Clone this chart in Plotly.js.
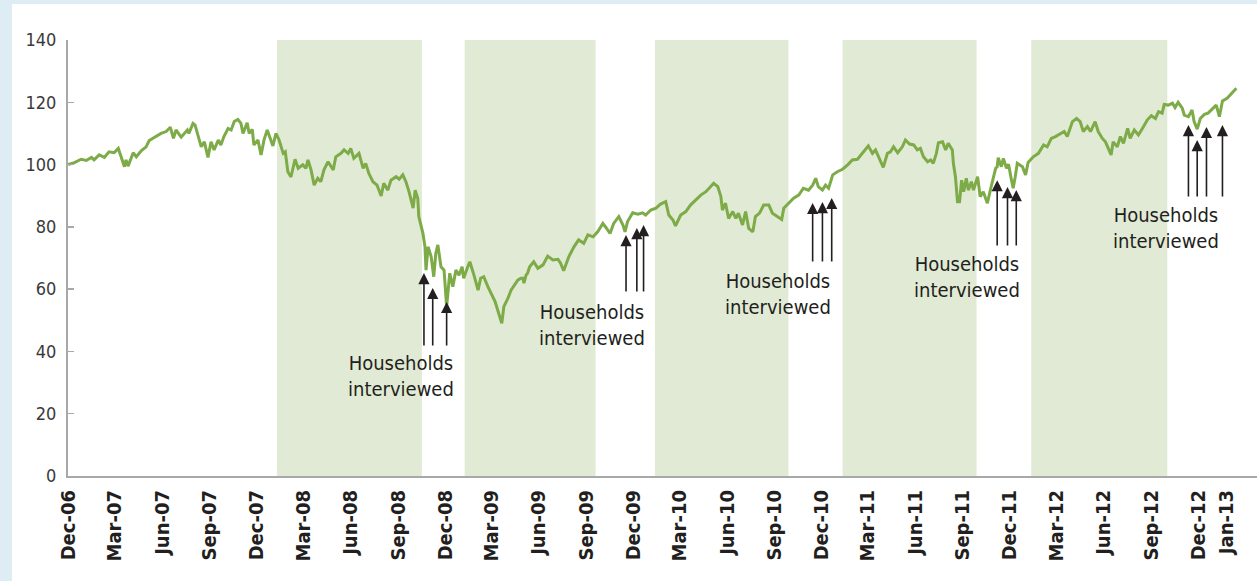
<!DOCTYPE html>
<html><head><meta charset="utf-8">
<script src="https://cdn.plot.ly/plotly-3.0.1.min.js"></script>
<style>
html,body{margin:0;padding:0;background:#deedf3;width:1257px;height:581px;overflow:hidden}
#chart{position:absolute;left:12px;top:4px;width:1245px;height:577px;background:#fff}
</style></head><body><div id="chart"></div>
<script>
const dates = [
"2006-12-01","2006-12-13","2006-12-26","2007-01-05","2007-01-15","2007-01-20","2007-01-30","2007-02-09","2007-02-18","2007-02-28",
"2007-03-08","2007-03-14","2007-03-20","2007-03-23","2007-03-27","2007-04-06","2007-04-12","2007-04-22","2007-05-01","2007-05-07",
"2007-05-17","2007-05-24","2007-05-30","2007-06-09","2007-06-17","2007-06-23","2007-06-28","2007-07-08","2007-07-20","2007-07-23",
"2007-07-31","2007-08-04","2007-08-10","2007-08-16","2007-08-22","2007-08-29","2007-09-04","2007-09-10","2007-09-18","2007-09-23",
"2007-09-29","2007-10-07","2007-10-13","2007-10-19","2007-10-26","2007-11-01","2007-11-05","2007-11-13","2007-11-17","2007-11-23",
"2007-11-26","2007-12-04","2007-12-10","2007-12-16","2007-12-22","2007-12-26","2008-01-02","2008-01-08","2008-01-14","2008-01-22",
"2008-01-26","2008-01-31","2008-02-06","2008-02-14","2008-02-20","2008-02-29","2008-03-06","2008-03-10","2008-03-16","2008-03-22",
"2008-03-29","2008-04-04","2008-04-10","2008-04-18","2008-04-28","2008-05-03","2008-05-13","2008-05-19","2008-05-27","2008-06-01",
"2008-06-07","2008-06-17","2008-06-25","2008-06-30","2008-07-06","2008-07-14","2008-07-22","2008-07-30","2008-08-04","2008-08-12",
"2008-08-18","2008-08-28","2008-09-03","2008-09-10","2008-09-16","2008-09-22","2008-09-30","2008-10-04","2008-10-09","2008-10-11",
"2008-10-19","2008-10-23","2008-10-25","2008-10-29","2008-11-04","2008-11-09","2008-11-13","2008-11-17","2008-11-23","2008-11-29",
"2008-12-04","2008-12-10","2008-12-16","2008-12-22","2008-12-28","2009-01-03","2009-01-06","2009-01-14","2009-01-18","2009-01-26",
"2009-02-03","2009-02-08","2009-02-14","2009-02-22","2009-02-28","2009-03-08","2009-03-13","2009-03-21","2009-03-25","2009-04-02",
"2009-04-08","2009-04-15","2009-04-21","2009-04-27","2009-05-01","2009-05-03","2009-05-07","2009-05-10","2009-05-14","2009-05-22",
"2009-05-30","2009-06-09","2009-06-18","2009-06-28","2009-07-08","2009-07-13","2009-07-19","2009-07-29","2009-08-08","2009-08-17",
"2009-08-27","2009-09-04","2009-09-14","2009-09-23","2009-10-03","2009-10-09","2009-10-17","2009-10-24","2009-11-03","2009-11-11",
"2009-11-15","2009-11-20","2009-11-30","2009-12-10","2009-12-19","2009-12-25","2010-01-04","2010-01-14","2010-01-23","2010-02-02",
"2010-02-08","2010-02-16","2010-02-21","2010-03-03","2010-03-13","2010-03-22","2010-04-01","2010-04-11","2010-04-21","2010-05-01",
"2010-05-06","2010-05-14","2010-05-20","2010-05-23","2010-05-29","2010-06-04","2010-06-12","2010-06-18","2010-06-23","2010-07-01",
"2010-07-07","2010-07-13","2010-07-21","2010-07-26","2010-08-03","2010-08-11","2010-08-21","2010-08-28","2010-09-07","2010-09-15",
"2010-09-19","2010-09-28","2010-10-08","2010-10-18","2010-10-27","2010-11-06","2010-11-14","2010-11-20","2010-11-25","2010-12-03",
"2010-12-09","2010-12-15","2010-12-23","2011-01-01","2011-01-11","2011-01-21","2011-01-30","2011-02-09","2011-02-19","2011-02-25",
"2011-03-02","2011-03-10","2011-03-16","2011-03-22","2011-03-31","2011-04-08","2011-04-14","2011-04-20","2011-04-28","2011-05-07",
"2011-05-13","2011-05-21","2011-05-29","2011-06-05","2011-06-11","2011-06-17","2011-06-25","2011-07-01","2011-07-06","2011-07-12",
"2011-07-16","2011-07-24","2011-07-30","2011-08-04","2011-08-12","2011-08-14","2011-08-18","2011-08-22","2011-08-26","2011-08-30",
"2011-09-03","2011-09-08","2011-09-12","2011-09-18","2011-09-22","2011-09-30","2011-10-05","2011-10-11","2011-10-19","2011-10-25",
"2011-10-31","2011-11-04","2011-11-07","2011-11-09","2011-11-15","2011-11-19","2011-11-25","2011-11-29","2011-12-04","2011-12-08",
"2011-12-12","2011-12-16","2011-12-26","2012-01-01","2012-01-06","2012-01-16","2012-01-26","2012-02-05","2012-02-12","2012-02-20",
"2012-02-28","2012-03-09","2012-03-16","2012-03-22","2012-04-01","2012-04-09","2012-04-16","2012-04-22","2012-04-30","2012-05-06",
"2012-05-15","2012-05-21","2012-05-29","2012-06-04","2012-06-10","2012-06-15","2012-06-19","2012-06-27","2012-07-03","2012-07-09",
"2012-07-17","2012-07-22","2012-07-30","2012-08-07","2012-08-17","2012-08-24","2012-09-01","2012-09-09","2012-09-15","2012-09-22",
"2012-09-26","2012-10-04","2012-10-12","2012-10-17","2012-10-23","2012-10-31","2012-11-04","2012-11-12","2012-11-19","2012-11-23",
"2012-11-29","2012-12-05","2012-12-13","2012-12-20","2012-12-30","2013-01-05","2013-01-11","2013-01-17","2013-01-26","2013-02-05",
"2013-02-13"
];
const values = [
100.0,100.6,101.7,101.3,102.3,101.5,103.1,102.3,104.1,103.8,
105.2,102.0,99.3,101.5,99.5,103.8,102.5,104.5,105.7,107.7,
108.8,109.5,110.0,110.6,112.0,108.4,111.1,108.8,111.1,110.0,
113.2,112.7,109.5,105.7,107.3,102.3,107.3,104.7,107.9,106.3,
109.0,111.6,111.1,113.8,114.5,113.2,110.0,113.4,110.0,111.3,
106.3,107.9,103.1,108.1,111.1,109.0,106.0,110.0,107.9,103.6,
104.1,97.7,96.0,101.7,98.8,99.9,98.8,101.5,98.3,93.4,
95.6,94.5,98.3,100.9,98.3,102.5,103.6,104.7,103.6,105.2,
102.0,103.6,98.8,100.4,97.2,94.5,93.4,89.9,94.0,91.8,
95.0,96.1,95.3,96.7,94.5,91.3,86.0,91.8,89.2,83.3,
77.9,73.6,66.1,73.6,70.4,64.0,71.5,74.2,67.2,66.1,
54.4,65.1,60.8,66.1,64.5,67.2,63.5,67.2,68.8,64.5,
59.7,63.5,64.0,60.8,58.7,56.0,53.3,49.0,54.4,57.1,
59.7,61.3,62.9,63.5,63.5,61.9,64.5,65.1,67.2,68.8,
66.7,67.8,70.6,69.4,69.6,68.3,65.9,70.4,73.6,75.8,
74.7,77.4,76.8,78.4,81.1,79.8,77.9,81.1,83.3,80.6,
78.4,81.7,84.5,84.1,84.5,83.8,85.4,86.0,87.3,88.1,
83.8,82.2,80.3,83.8,84.9,87.0,88.6,90.2,91.3,93.1,
94.0,92.9,89.7,85.4,87.6,82.7,84.9,82.7,84.4,80.6,
84.9,79.5,78.4,83.3,84.4,87.0,87.0,84.4,83.3,82.4,
86.0,87.6,89.2,90.2,92.4,91.8,93.4,95.6,92.9,91.8,
93.4,92.4,96.7,97.7,98.5,99.9,101.5,101.7,103.6,104.7,
106.0,103.6,104.7,102.5,99.1,103.6,104.1,105.7,103.8,105.7,
107.9,106.6,106.3,104.7,105.2,102.5,100.9,101.5,100.4,103.6,
107.0,107.3,104.7,106.8,104.7,100.4,96.1,88.1,88.1,95.0,
91.3,95.6,91.8,94.5,91.8,96.1,89.7,91.3,87.6,92.0,
95.6,98.8,99.3,102.2,99.3,102.0,98.8,100.1,95.6,92.4,
96.1,100.4,99.3,96.7,100.7,102.5,103.6,106.3,105.7,108.4,
109.0,110.0,110.6,109.0,113.8,114.8,113.8,110.6,112.2,110.6,
113.8,110.6,108.4,107.3,104.7,103.1,107.3,105.7,109.0,106.8,
111.6,108.4,111.1,109.5,112.2,114.3,115.7,114.8,117.0,116.5,
119.3,119.1,119.7,118.3,120.0,118.1,115.9,115.4,117.5,113.8,
111.4,114.8,116.1,116.5,118.1,119.1,115.4,120.4,121.3,122.9,
124.5
];
const tickDates = ["2006-12-01","2007-03-01","2007-06-01","2007-09-01","2007-12-01","2008-03-01","2008-06-01","2008-09-01",
"2008-12-01","2009-03-01","2009-06-01","2009-09-01","2009-12-01","2010-03-01","2010-06-01","2010-09-01","2010-12-01",
"2011-03-01","2011-06-01","2011-09-01","2011-12-01","2012-03-01","2012-06-01","2012-09-01","2012-12-01","2013-01-25"];
const tickLabels = ["Dec-06","Mar-07","Jun-07","Sep-07","Dec-07","Mar-08","Jun-08","Sep-08","Dec-08","Mar-09","Jun-09","Sep-09",
"Dec-09","Mar-10","Jun-10","Sep-10","Dec-10","Mar-11","Jun-11","Sep-11","Dec-11","Mar-12","Jun-12","Sep-12","Dec-12","Jan-13"];
const yTicks = [0,20,40,60,80,100,120,140];
const shadeStart = ["2008-01-10","2009-01-08","2010-01-12","2011-01-11","2012-01-12"];
const shadeEnd = ["2008-10-17","2009-09-19","2010-09-28","2011-09-28","2012-10-02"];
const arrowDates = ["2008-10-21","2008-11-07","2008-12-04","2009-11-17","2009-12-08","2009-12-21",
"2010-11-14","2010-12-03","2010-12-21","2011-11-07","2011-11-27","2011-12-14",
"2012-11-12","2012-11-29","2012-12-17","2013-01-17"];
const arrowTips = [65.2,60.4,55.9,77.4,79.6,80.6,87.7,88.0,89.3,95.0,92.8,91.8,112.7,107.9,112.1,112.7];
const arrowTails = [41.4,41.4,41.4,58.8,58.8,58.8,68.4,68.4,68.4,73.5,73.5,73.5,89.3,89.3,89.3,89.3];
const noteDates = ["2008-09-07","2009-09-12","2010-09-07","2011-09-10","2012-09-29"];
const noteY = [32.1,48.6,58.3,63.9,79.6];
const noteText = "Households<br>interviewed";

const FONT = "'Liberation Sans Narrow','DejaVu Sans Condensed','Arial Narrow',sans-serif";
const shapes = shadeStart.map((s,i)=>({type:'rect',xref:'x',yref:'paper',x0:s,x1:shadeEnd[i],y0:0,y1:1,
  fillcolor:'#e1ead5',line:{width:0},layer:'below'}));
const annotations = [];
arrowDates.forEach((d,i)=>{
  annotations.push({x:d,y:arrowTips[i],xref:'x',yref:'y',ax:d,ay:arrowTails[i],axref:'x',ayref:'y',
    text:'',showarrow:true,arrowhead:2,arrowsize:1.4,arrowwidth:1.6,arrowcolor:'#231f20',standoff:0,startstandoff:0});
});
noteDates.forEach((d,i)=>{
  annotations.push({x:d,y:noteY[i],xref:'x',yref:'y',text:noteText,showarrow:false,xanchor:'center',yanchor:'middle',
    align:'center',font:{family:FONT,size:20,color:'#231f20'}});
});

Plotly.newPlot('chart',[{x:dates,y:values,type:'scatter',mode:'lines',line:{color:'#7dab47',width:3},hoverinfo:'skip'}],{
  width:1245,height:577,margin:{l:56,r:0,t:36,b:105},
  paper_bgcolor:'#ffffff',plot_bgcolor:'#ffffff',showlegend:false,
  font:{family:FONT},
  xaxis:{type:'date',range:['2006-11-30 12:00','2013-03-25'],tickmode:'array',tickvals:tickDates,ticktext:tickLabels,
    tickangle:-90,tickfont:{family:FONT,size:20,color:'#231f20',weight:'bold'},showline:true,linecolor:'#a8a8a8',linewidth:2,
    ticks:'',showgrid:false,zeroline:false,fixedrange:true,ticklabelstandoff:4},
  yaxis:{range:[0,140],tickmode:'array',tickvals:yTicks,ticks:'inside',ticklen:6,tickwidth:1.5,tickcolor:'#a8a8a8',
    showline:true,linecolor:'#a8a8a8',linewidth:2,showgrid:false,zeroline:false,ticklabelstandoff:6,
    tickfont:{family:FONT,size:18,color:'#3a3a3a'},fixedrange:true},
  shapes:shapes,annotations:annotations
},{displayModeBar:false,staticPlot:true});
</script></body></html>
